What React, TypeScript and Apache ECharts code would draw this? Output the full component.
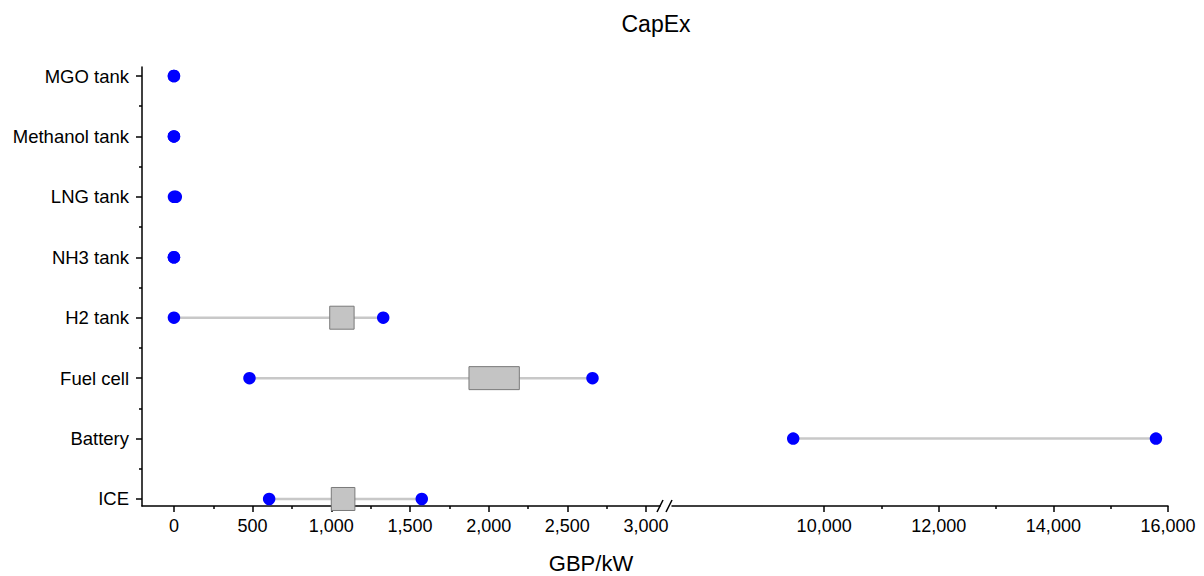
import React, { useEffect, useRef } from "react";
import * as echarts from "echarts";

const categories = ["ICE", "Battery", "Fuel cell", "H2 tank", "NH3 tank", "LNG tank", "Methanol tank", "MGO tank"];
const minValues = [605, 9460, 480, 0, 0, 0, 0, 0];
const maxValues = [1575, 15790, 2660, 1330, 0, 12, 0, 0];
const boxLow: (number | null)[] = [1000, null, 1875, 990, null, null, null, null];
const boxHigh: (number | null)[] = [1150, null, 2195, 1145, null, null, null, null];

const leftTicks = [0, 500, 1000, 1500, 2000, 2500, 3000];
const leftMinorTicks = [250, 750, 1250, 1750, 2250, 2750];
const rightTicks = [10000, 12000, 14000, 16000];
const rightMinorTicks = [11000, 13000, 15000];
const yTicks = [1, 2, 3, 4, 5, 6, 7, 8];
const yMinorTicks = [1.5, 2.5, 3.5, 4.5, 5.5, 6.5, 7.5];

const LEFT_MIN = -203;
const LEFT_MAX = 3089;
const RIGHT_MIN = 7345;
const RIGHT_MAX = 16000;
const Y_MIN = 0.884;
const Y_MAX = 8.149;

const FONT = "Liberation Sans, Arial, sans-serif";

function renderRange(params: any, api: any) {
  const cs = params.coordSys;
  const y = api.value(0);
  const lo = api.value(1);
  const hi = api.value(2);
  const bl = api.value(3);
  const bh = api.value(4);
  const x0 = cs.x;
  const x1 = cs.x + cs.width;
  const children: any[] = [];
  const p1 = api.coord([lo, y]);
  const p2 = api.coord([hi, y]);
  if (p2[0] >= x0 && p1[0] <= x1 && p2[0] - p1[0] > 0.5) {
    children.push({
      type: "line",
      shape: { x1: Math.max(p1[0], x0), y1: p1[1], x2: Math.min(p2[0], x1), y2: p2[1] },
      style: { stroke: "#c8c8c8", lineWidth: 2.5 },
    });
  }
  if (!isNaN(bl) && !isNaN(bh)) {
    const b1 = api.coord([bl, y]);
    const b2 = api.coord([bh, y]);
    if (b2[0] >= x0 && b1[0] <= x1) {
      children.push({
        type: "rect",
        shape: { x: b1[0], y: b1[1] - 11.5, width: b2[0] - b1[0], height: 23 },
        style: { fill: "#c4c4c4", stroke: "#7a7a7a", lineWidth: 1 },
      });
    }
  }
  return { type: "group", children };
}

const rangeData = categories.map((c, i) => [
  i + 1,
  minValues[i],
  maxValues[i],
  boxLow[i] == null ? "-" : boxLow[i],
  boxHigh[i] == null ? "-" : boxHigh[i],
]);

function pointsIn(lo: number, hi: number) {
  const pts: number[][] = [];
  categories.forEach((c, i) => {
    [minValues[i], maxValues[i]].forEach((v) => {
      if (v >= lo && v <= hi) pts.push([v, i + 1]);
    });
  });
  return pts;
}

const fmt = (v: number) => Number(v).toLocaleString("en-US");

export default function App() {
  const ref = useRef<HTMLDivElement>(null);
  useEffect(() => {
    if (!ref.current) return;
    const chart = echarts.init(ref.current, null, { renderer: "svg" });
    const axisLineStyle = { color: "#000", width: 1.5 };
    const tickStyle = { color: "#000", width: 1.5 };
    const baseX = {
      type: "value",
      position: "bottom",
      splitLine: { show: false },
      axisLine: { onZero: false, lineStyle: axisLineStyle },
    };
    const option: any = {
      animation: false,
      backgroundColor: "#fff",
      textStyle: { fontFamily: FONT },
      grid: [
        { left: 142, top: 67, width: 518, height: 439 },
        { left: 672, top: 67, width: 496, height: 439 },
      ],
      xAxis: [
        {
          ...baseX,
          gridIndex: 0,
          min: LEFT_MIN,
          max: LEFT_MAX,
          axisTick: { customValues: leftTicks, length: 6, lineStyle: tickStyle },
          axisLabel: { customValues: leftTicks, formatter: fmt, color: "#000", fontSize: 18, margin: 11, fontFamily: FONT },
        },
        {
          ...baseX,
          gridIndex: 0,
          min: LEFT_MIN,
          max: LEFT_MAX,
          axisLine: { show: false, onZero: false },
          axisTick: { show: true, customValues: leftMinorTicks, length: 3, lineStyle: tickStyle },
          axisLabel: { show: false },
        },
        {
          ...baseX,
          gridIndex: 1,
          min: RIGHT_MIN,
          max: RIGHT_MAX,
          axisTick: { customValues: rightTicks, length: 6, lineStyle: tickStyle },
          axisLabel: { customValues: rightTicks, formatter: fmt, color: "#000", fontSize: 18, margin: 11, fontFamily: FONT },
        },
        {
          ...baseX,
          gridIndex: 1,
          min: RIGHT_MIN,
          max: RIGHT_MAX,
          axisLine: { show: false, onZero: false },
          axisTick: { show: true, customValues: rightMinorTicks, length: 3, lineStyle: tickStyle },
          axisLabel: { show: false },
        },
      ],
      yAxis: [
        {
          type: "value",
          gridIndex: 0,
          position: "left",
          min: Y_MIN,
          max: Y_MAX,
          splitLine: { show: false },
          axisLine: { show: true, onZero: false, lineStyle: axisLineStyle },
          axisTick: { show: true, customValues: yTicks, length: 6, lineStyle: tickStyle },
          axisLabel: {
            customValues: yTicks,
            formatter: (v: number) => categories[Math.round(v) - 1] ?? "",
            color: "#000",
            fontSize: 18.5,
            margin: 13,
            fontFamily: FONT,
          },
        },
        {
          type: "value",
          gridIndex: 0,
          position: "left",
          min: Y_MIN,
          max: Y_MAX,
          splitLine: { show: false },
          axisLine: { show: false, onZero: false },
          axisTick: { show: true, customValues: yMinorTicks, length: 3, lineStyle: tickStyle },
          axisLabel: { show: false },
        },
        {
          type: "value",
          gridIndex: 1,
          min: Y_MIN,
          max: Y_MAX,
          show: false,
        },
      ],
      graphic: [
        {
          type: "text",
          x: 656,
          y: 24,
          style: { text: "CapEx", fontSize: 23, lineHeight: 24, fontFamily: FONT, fill: "#000", align: "center", verticalAlign: "middle", textAlign: "center", textVerticalAlign: "middle" },
        },
        {
          type: "text",
          x: 591,
          y: 563,
          style: { text: "GBP/kW", fontSize: 22, lineHeight: 22, fontFamily: FONT, fill: "#000", align: "center", verticalAlign: "middle", textAlign: "center", textVerticalAlign: "middle" },
        },
        {
          type: "line",
          shape: { x1: 657, y1: 512, x2: 663, y2: 500 },
          style: { stroke: "#000", lineWidth: 1.5 },
        },
        {
          type: "line",
          shape: { x1: 666, y1: 512, x2: 672, y2: 500 },
          style: { stroke: "#000", lineWidth: 1.5 },
        },
      ],
      series: [
        {
          type: "custom",
          xAxisIndex: 0,
          yAxisIndex: 0,
          renderItem: renderRange,
          encode: { x: [1, 2], y: 0 },
          data: rangeData,
          z: 2,
        },
        {
          type: "custom",
          xAxisIndex: 2,
          yAxisIndex: 2,
          renderItem: renderRange,
          encode: { x: [1, 2], y: 0 },
          data: rangeData,
          z: 2,
        },
        {
          type: "scatter",
          xAxisIndex: 0,
          yAxisIndex: 0,
          symbol: "circle",
          symbolSize: 12.5,
          itemStyle: { color: "#0000ff", opacity: 1 },
          data: pointsIn(LEFT_MIN, LEFT_MAX),
          z: 3,
        },
        {
          type: "scatter",
          xAxisIndex: 2,
          yAxisIndex: 2,
          symbol: "circle",
          symbolSize: 12.5,
          itemStyle: { color: "#0000ff", opacity: 1 },
          data: pointsIn(RIGHT_MIN, RIGHT_MAX),
          z: 3,
        },
      ],
    };
    chart.setOption(option);
    return () => chart.dispose();
  }, []);
  return (
    <div
      ref={ref}
      style={{ position: "fixed", left: 0, top: 0, width: 1204, height: 576, background: "#fff" }}
    />
  );
}
